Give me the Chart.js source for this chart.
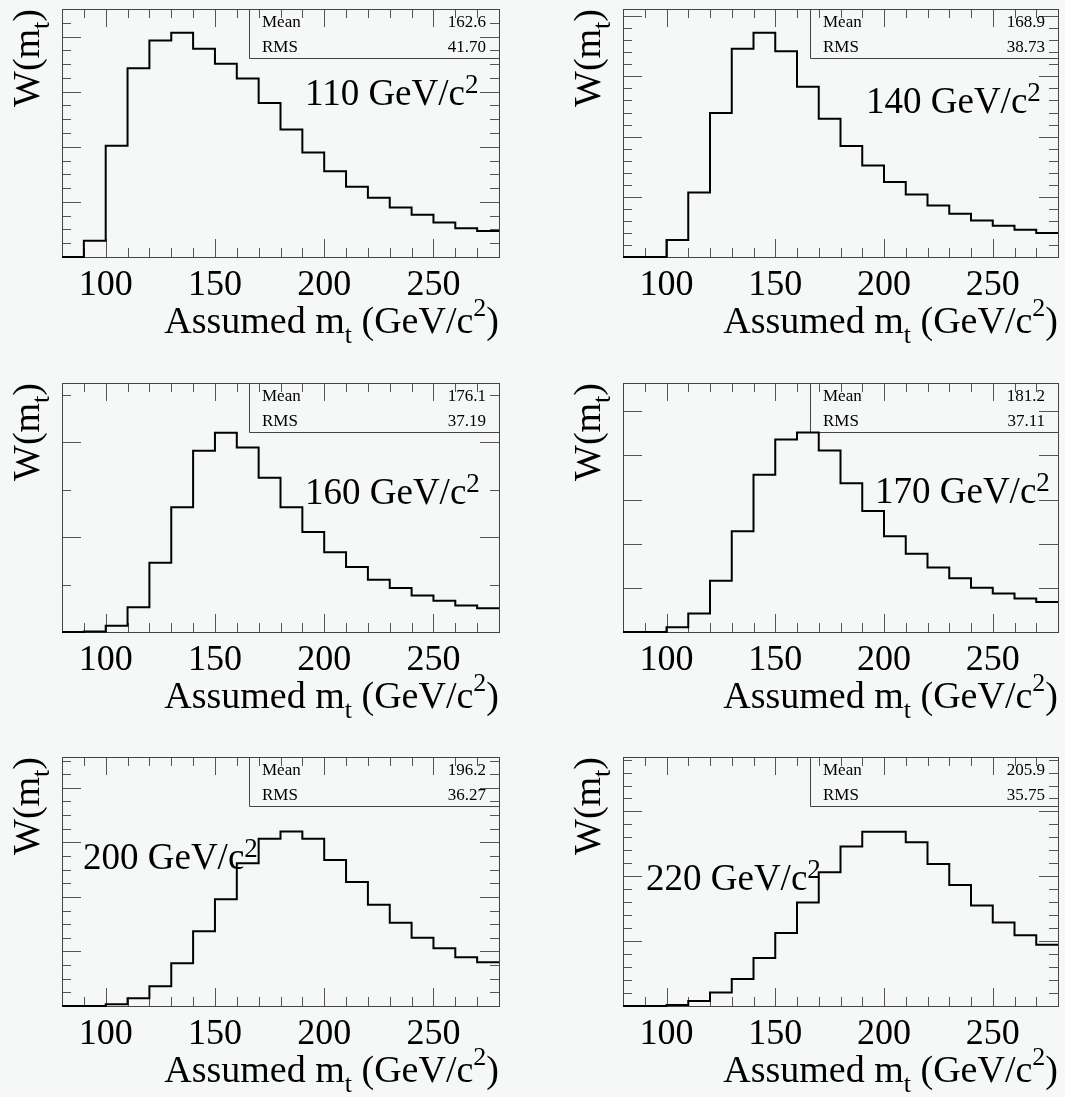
<!DOCTYPE html>
<html>
<head>
<meta charset="utf-8">
<script src="https://cdn.jsdelivr.net/npm/chart.js@4.4.1/dist/chart.umd.min.js"></script>
<style>
  html, body { margin: 0; padding: 0; background: #f6f8f8; }
  body { width: 1065px; height: 1097px; position: relative; overflow: hidden; }
  canvas { position: absolute; }
</style>
</head>
<body>
<canvas id="h0"></canvas>
<canvas id="h1"></canvas>
<canvas id="h2"></canvas>
<canvas id="h3"></canvas>
<canvas id="h4"></canvas>
<canvas id="h5"></canvas>
<script>
// bin low edges (GeV/c^2), last bin ends at 280
const binLow = [80, 90, 100, 110, 120, 130, 140, 150, 160, 170, 180, 190, 200, 210, 220, 230, 240, 250, 260, 270];
const binEnd = 280;
const xTickLabels = [100, 150, 200, 250];

// W(m_t) per bin, arbitrary units (1 = one small y tick)
const w110 = [0, 1.18, 8.07, 13.70, 15.72, 16.28, 15.12, 14.03, 12.95, 11.18, 9.25, 7.58, 6.23, 5.10, 4.30, 3.60, 3.07, 2.51, 2.08, 1.88];
const w140 = [0, 0, 1.41, 5.36, 11.96, 17.29, 18.62, 17.10, 14.14, 11.49, 9.23, 7.60, 6.24, 5.19, 4.28, 3.59, 3.04, 2.60, 2.27, 1.99];
const w160 = [0, 0.01, 0.13, 0.52, 1.46, 2.63, 3.82, 4.20, 3.89, 3.25, 2.63, 2.11, 1.68, 1.37, 1.10, 0.93, 0.77, 0.66, 0.56, 0.50];
const w170 = [0, 0, 0.11, 0.42, 1.16, 2.28, 3.56, 4.36, 4.52, 4.11, 3.37, 2.74, 2.17, 1.77, 1.46, 1.22, 1.00, 0.87, 0.76, 0.68];
const w200 = [0, 0, 0.12, 0.56, 1.44, 3.13, 5.48, 7.82, 10.46, 12.27, 12.79, 12.27, 10.71, 9.10, 7.43, 6.11, 5.01, 4.23, 3.57, 3.20];
const w220 = [0, 0, 0.08, 0.39, 1.05, 2.08, 3.70, 5.63, 7.99, 10.31, 12.29, 13.44, 13.44, 12.62, 10.95, 9.33, 7.74, 6.43, 5.45, 4.73];

const inputMass = ['110', '140', '160', '170', '200', '220'];
const meanVals = ['162.6', '168.9', '176.1', '181.2', '196.2', '205.9'];
const rmsVals = ['41.70', '38.73', '37.19', '37.11', '36.27', '35.75'];

const yMax = [18, 20.6, 5.25, 5.64, 18.26, 19.2];
const yMajorEvery = [4, 5, 2, 1, 4, 5];

// page layout
const canvasBox = [[0, 0, 532, 370], [532, 0, 533, 370], [0, 370, 532, 370], [532, 370, 533, 370], [0, 740, 532, 357], [532, 740, 533, 357]];
const frameBox = [[62, 9, 499, 257], [623, 9, 1058, 257], [62, 383, 499, 632], [623, 383, 1058, 632], [62, 757, 499, 1006], [623, 757, 1058, 1006]];
const tagPos = [[305, 105], [866, 113], [305, 504], [875, 503], [83, 869], [646, 890]];

const SERIF = "'Liberation Serif', 'Times New Roman', serif";
const series = [w110, w140, w160, w170, w200, w220];

function drawRich(ctx, parts, x, y, align) {
  let total = 0;
  parts.forEach(p => { ctx.font = p[1] + 'px ' + SERIF; total += ctx.measureText(p[0]).width; });
  let cx = align === 'right' ? x - total : x;
  ctx.textAlign = 'left';
  ctx.textBaseline = 'alphabetic';
  parts.forEach(p => {
    ctx.font = p[1] + 'px ' + SERIF;
    ctx.fillText(p[0], cx, y + p[2]);
    cx += ctx.measureText(p[0]).width;
  });
}

const rootStyle = {
  id: 'rootStyle',
  beforeDatasetsDraw(chart, args, opts) {
    const ctx = chart.ctx, a = chart.chartArea;
    const xs = chart.scales.x, ys = chart.scales.y;
    ctx.save();
    ctx.strokeStyle = '#555';
    ctx.lineWidth = 1;
    ctx.beginPath();
    xs.ticks.forEach(t => {
      const px = Math.round(xs.getPixelForValue(t.value)) + 0.5;
      const len = t.value % 50 === 0 ? 18 : 9;
      ctx.moveTo(px, a.bottom); ctx.lineTo(px, a.bottom - len);
      ctx.moveTo(px, a.top); ctx.lineTo(px, a.top + len);
    });
    for (let k = 1; k <= Math.floor(ys.max); k++) {
      const py = Math.round(ys.getPixelForValue(k)) + 0.5;
      const len = k % opts.major === 0 ? 19 : 9;
      ctx.moveTo(a.left, py); ctx.lineTo(a.left + len, py);
      ctx.moveTo(a.right, py); ctx.lineTo(a.right - len, py);
    }
    ctx.stroke();
    ctx.strokeStyle = '#444';
    ctx.strokeRect(Math.round(a.left) + 0.5, Math.round(a.top) + 0.5, Math.round(a.right - a.left), Math.round(a.bottom - a.top));
    // stats box
    const bl = Math.round(a.left + 187) + 0.5, bb = Math.round(a.top + 49) + 0.5;
    ctx.beginPath();
    ctx.moveTo(bl, a.top); ctx.lineTo(bl, bb); ctx.lineTo(a.right, bb);
    ctx.stroke();
    ctx.restore();
  },
  afterDatasetsDraw(chart, args, opts) {
    const ctx = chart.ctx, a = chart.chartArea;
    ctx.save();
    ctx.fillStyle = '#000';
    ctx.font = '17px ' + SERIF;
    ctx.textBaseline = 'alphabetic';
    ctx.textAlign = 'left';
    ctx.fillText('Mean', a.left + 200, a.top + 18);
    ctx.fillText('RMS', a.left + 200, a.top + 43);
    ctx.textAlign = 'right';
    ctx.fillText(opts.mean, a.right - 13, a.top + 18);
    ctx.fillText(opts.rms, a.right - 13, a.top + 43);
    // input mass tag
    drawRich(ctx, [[opts.mass + ' GeV/c', 37, 0], ['2', 27, -12]], opts.tag[0], opts.tag[1], 'left');
    // x title
    drawRich(ctx, [['Assumed m', 38, 0], ['t', 26, 10], [' (GeV/c', 38, 0], ['2', 26, -17], [')', 38, 0]], a.right, a.bottom + 76, 'right');
    // y title
    ctx.translate(a.left - 23, a.top);
    ctx.rotate(-Math.PI / 2);
    drawRich(ctx, [['W(m', 38, 0], ['t', 26, 10], [')', 38, 0]], 0, 0, 'right');
    ctx.restore();
  }
};

series.forEach((vals, i) => {
  const cb = canvasBox[i], fb = frameBox[i];
  const cv = document.getElementById('h' + i);
  cv.width = cb[2]; cv.height = cb[3];
  cv.style.left = cb[0] + 'px'; cv.style.top = cb[1] + 'px';
  const pts = binLow.map((x, k) => ({ x: x, y: vals[k] }));
  pts.push({ x: binEnd, y: vals[vals.length - 1] });
  const xHeight = cb[1] + cb[3] - fb[3];
  new Chart(cv, {
    type: 'line',
    data: {
      datasets: [{
        data: pts,
        stepped: 'before',
        borderColor: '#000',
        borderWidth: 2,
        pointRadius: 0,
        fill: false,
        clip: false
      }]
    },
    plugins: [rootStyle],
    options: {
      animation: false,
      responsive: false,
      devicePixelRatio: 1,
      events: [],
      layout: {
        padding: { left: fb[0] - cb[0], top: fb[1] - cb[1], right: cb[0] + cb[2] - fb[2], bottom: 0 }
      },
      plugins: {
        legend: { display: false },
        tooltip: { enabled: false },
        rootStyle: {
          major: yMajorEvery[i],
          mean: meanVals[i],
          rms: rmsVals[i],
          mass: inputMass[i],
          tag: [tagPos[i][0] - cb[0], tagPos[i][1] - cb[1]]
        }
      },
      scales: {
        x: {
          type: 'linear',
          min: binLow[0],
          max: binEnd,
          grid: { display: false, drawTicks: false },
          border: { display: false },
          ticks: {
            stepSize: 10,
            autoSkip: false,
            maxRotation: 0,
            padding: 7,
            color: '#000',
            font: { family: SERIF, size: 36 },
            callback: v => xTickLabels.includes(v) ? String(v) : ''
          },
          afterFit: s => { s.height = xHeight; }
        },
        y: {
          type: 'linear',
          display: false,
          min: 0,
          max: yMax[i],
          ticks: { stepSize: 1 }
        }
      }
    }
  });
});
</script>
</body>
</html>
